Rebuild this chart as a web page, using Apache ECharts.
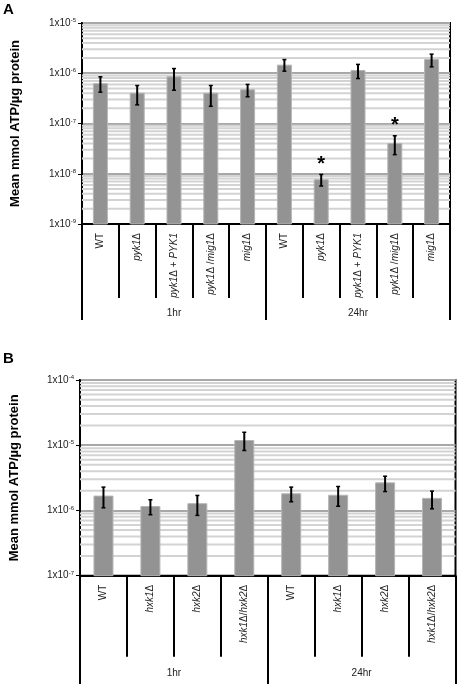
<!DOCTYPE html>
<html><head><meta charset="utf-8">
<script src="https://cdn.jsdelivr.net/npm/echarts@6/dist/echarts.min.js"></script>
<style>html,body{margin:0;padding:0;background:#fff}#c{width:458px;height:684px}</style>
</head><body><div id="c"></div>
<script>
// ---- Panel A data ----
const catsA = ['WT','pyk1Δ','pyk1Δ + PYK1','pyk1Δ /mig1Δ','mig1Δ','WT','pyk1Δ','pyk1Δ + PYK1','pyk1Δ /mig1Δ','mig1Δ'];
const groupsA = ['1hr','24hr'];
const meanA = [6.2e-7,4.0e-7,8.5e-7,4.0e-7,4.7e-7,1.45e-6,7.6e-9,1.13e-6,4.0e-8,1.87e-6];
const lowA  = [4.2e-7,2.35e-7,4.6e-7,2.2e-7,3.4e-7,1.1e-6,5.7e-9,7.85e-7,2.4e-8,1.34e-6];
const highA = [8.5e-7,5.7e-7,1.24e-6,5.7e-7,6.0e-7,1.87e-6,9.7e-9,1.5e-6,5.7e-8,2.4e-6];
const starA = [0,0,0,0,0,0,1,0,1,0];
// ---- Panel B data ----
const catsB = ['WT','hxk1Δ','hxk2Δ','hxk1Δ/hxk2Δ','WT','hxk1Δ','hxk2Δ','hxk1Δ/hxk2Δ'];
const groupsB = ['1hr','24hr'];
const meanB = [1.66e-6,1.15e-6,1.27e-6,1.18e-5,1.8e-6,1.71e-6,2.65e-6,1.53e-6];
const lowB  = [1.1e-6,8.6e-7,8.4e-7,8.3e-6,1.36e-6,1.16e-6,1.95e-6,1.06e-6];
const highB = [2.28e-6,1.46e-6,1.7e-6,1.58e-5,2.28e-6,2.33e-6,3.35e-6,1.98e-6];
const starB = [0,0,0,0,0,0,0,0];
const yNameA = 'Mean mmol ATP/µg protein';
const yNameB = 'Mean mmol ATP/µg protein';
const decadesA = [1e-9,1e-8,1e-7,1e-6];
const decadesB = [1e-7,1e-6,1e-5];
const minorMult = [2,3,4,5,6,7,8,9];

const FONT = 'Liberation Sans, Arial, sans-serif';
const chart = echarts.init(document.getElementById('c'), null, {renderer:'canvas'});

function catFmt(v){ return v.replace(/([A-Za-z]+\d)/g, '{i|$1}'); }
function yFmt(v){ const e = Math.round(Math.log10(v)); return '1x10{s|' + e + '}'; }
function minorValues(decs){
  const out = [];
  decs.forEach(d => minorMult.forEach(m => out.push([0, d*m])));
  return out;
}
function minorRenderer(params, api){
  const p = api.coord([0, api.value(1)]);
  const cs = params.coordSys;
  return {type:'line', shape:{x1:cs.x, y1:p[1], x2:cs.x+cs.width, y2:p[1]},
    style:{stroke:'#d3d3d3', lineWidth:2}};
}
function makeData(mean, low, high, star){
  return mean.map((m,i)=>[i, m, low[i], high[i], star[i]]);
}
function renderer(barW){
  return function(params, api){
    const i = api.value(0);
    const top = api.coord([i, api.value(1)]);
    const lo = api.coord([i, api.value(2)]);
    const hi = api.coord([i, api.value(3)]);
    const cs = params.coordSys;
    const bottom = cs.y + cs.height;
    const x = top[0];
    const ch = [
      {type:'rect', shape:{x:x-barW/2, y:top[1], width:barW, height:bottom-top[1]},
       style:{fill:'#939393', stroke:'#b4b4b4', lineWidth:1}},
      {type:'line', shape:{x1:x,y1:hi[1],x2:x,y2:lo[1]}, style:{stroke:'#000',lineWidth:2}},
      {type:'line', shape:{x1:x-2,y1:hi[1],x2:x+2,y2:hi[1]}, style:{stroke:'#000',lineWidth:1.5}},
      {type:'line', shape:{x1:x-2,y1:lo[1],x2:x+2,y2:lo[1]}, style:{stroke:'#000',lineWidth:1.5}}
    ];
    if (api.value(4)) {
      ch.push({type:'text', style:{text:'*', x:x, y:hi[1], align:'center', verticalAlign:'bottom',
        font:'bold 20px ' + FONT, fill:'#000'}});
    }
    return {type:'group', children: ch};
  };
}

const yAxisCommon = {
  type:'log', logBase:10,
  axisLine:{show:true, lineStyle:{color:'#000', width:2}},
  axisTick:{show:true, length:4, lineStyle:{color:'#000', width:1}},
  splitLine:{show:true, lineStyle:{color:'#a8a8a8', width:2}},
  axisLabel:{formatter:yFmt, color:'#222', fontSize:10, fontFamily:FONT, margin:6,
    rich:{s:{fontSize:6, verticalAlign:'top', padding:[0,0,5,0], fontFamily:FONT, color:'#222'}}},
  nameLocation:'middle', nameRotate:90,
  nameTextStyle:{fontSize:13, fontWeight:'bold', color:'#000', fontFamily:FONT}
};
const labelRich = {i:{fontStyle:'italic', fontSize:10, fontFamily:FONT, color:'#222'}};

const option = {
  animation:false,
  backgroundColor:'#fff',
  graphic:[
    {type:'text', left:3, top:2, style:{text:'A', font:'bold 15px ' + FONT, fill:'#000'}},
    {type:'text', left:3, top:351, style:{text:'B', font:'bold 15px ' + FONT, fill:'#000'}}
  ],
  grid:[
    {left:82, top:23, width:368, height:201, show:true, borderColor:'#000', borderWidth:2, backgroundColor:'transparent'},
    {left:79, top:380, width:376.5, height:195.7, show:true, borderColor:'#000', borderWidth:2, backgroundColor:'transparent'}
  ],
  xAxis:[
    {gridIndex:0, type:'category', data:catsA, position:'bottom',
     axisLine:{show:true, lineStyle:{color:'#000', width:2}},
     axisTick:{show:true, length:74, alignWithLabel:false, lineStyle:{color:'#000', width:2}},
     axisLabel:{rotate:90, margin:9, formatter:catFmt, fontSize:10, color:'#222', fontFamily:FONT, rich:labelRich, interval:0},
     splitLine:{show:false}},
    {gridIndex:0, type:'category', data:groupsA, position:'bottom',
     axisLine:{show:false},
     axisTick:{show:true, length:96, lineStyle:{color:'#000', width:2}},
     axisLabel:{margin:84, fontSize:10, color:'#222', fontFamily:FONT}},
    {gridIndex:1, type:'category', data:catsB, position:'bottom',
     axisLine:{show:true, lineStyle:{color:'#000', width:2}},
     axisTick:{show:true, length:81, alignWithLabel:false, lineStyle:{color:'#000', width:2}},
     axisLabel:{rotate:90, margin:9, formatter:catFmt, fontSize:10, color:'#222', fontFamily:FONT, rich:labelRich, interval:0},
     splitLine:{show:false}},
    {gridIndex:1, type:'category', data:groupsB, position:'bottom',
     axisLine:{show:false},
     axisTick:{show:true, length:110, lineStyle:{color:'#000', width:2}},
     axisLabel:{margin:93, fontSize:10, color:'#222', fontFamily:FONT}}
  ],
  yAxis:[
    Object.assign({}, yAxisCommon, {gridIndex:0, min:1e-9, max:1e-5, name:yNameA, nameGap:60}),
    Object.assign({}, yAxisCommon, {gridIndex:1, min:1e-7, max:1e-4, name:yNameB, nameGap:59})
  ],
  series:[
    {type:'custom', xAxisIndex:0, yAxisIndex:0, z:1, silent:true, renderItem:minorRenderer, data:minorValues(decadesA)},
    {type:'custom', xAxisIndex:2, yAxisIndex:1, z:1, silent:true, renderItem:minorRenderer, data:minorValues(decadesB)},
    {type:'custom', xAxisIndex:0, yAxisIndex:0, z:5, renderItem:renderer(14), data:makeData(meanA,lowA,highA,starA), clip:false},
    {type:'custom', xAxisIndex:2, yAxisIndex:1, z:5, renderItem:renderer(19), data:makeData(meanB,lowB,highB,starB), clip:false}
  ]
};
chart.setOption(option);
</script>
</body></html>
